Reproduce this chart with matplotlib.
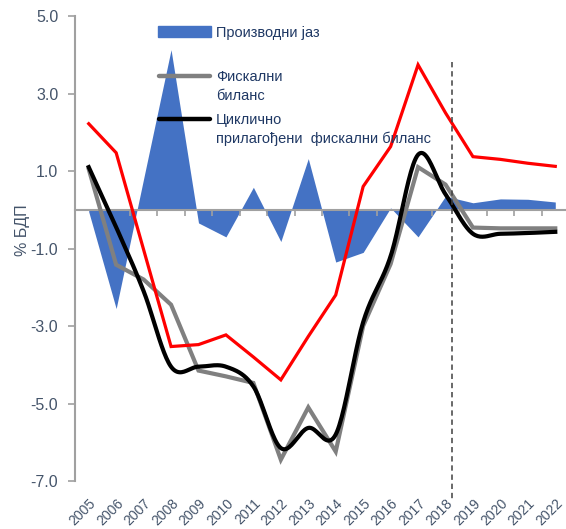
import matplotlib
matplotlib.use('Agg')
import matplotlib.pyplot as plt
from matplotlib.lines import Line2D
from matplotlib.patches import Rectangle
import numpy as np

plt.rcParams['font.family'] = ['Liberation Sans', 'DejaVu Sans']

years = [str(y) for y in range(2005, 2023)]
output_gap = [-0.05, -2.55, 0.8, 4.13, -0.34, -0.7, 0.58, -0.82, 1.32, -1.35,
              -1.1, 0.05, -0.7, 0.35, 0.18, 0.28, 0.27, 0.2]
fiscal_balance = [1.05, -1.42, -1.8, -2.45, -4.15, -4.3, -4.47, -6.45, -5.1, -6.24,
                  -3.0, -1.4, 1.1, 0.65, -0.46, -0.48, -0.48, -0.48]
cyc_adj_balance = [1.1, -0.45, -2.1, -4.05, -4.05, -4.05, -4.56, -6.15, -5.63, -5.8,
                   -2.9, -1.2, 1.42, 0.4, -0.62, -0.62, -0.6, -0.57]
red_series = [2.22, 1.47, -1.03, -3.53, -3.48, -3.23, -3.8, -4.39, -3.27, -2.2,
              0.6, 1.63, 3.74, 2.5, 1.37, 1.3, 1.2, 1.12]
forecast_start = 13.25   # dashed separator, between 2018 and 2019
yticks = [5.0, 3.0, 1.0, -1.0, -3.0, -5.0, -7.0]

label_col = '#44546A'
legend_col = '#1F3864'
axis_col = '#A0A0A0'


def smooth(xs, ys, n=24):
    # Excel-like smoothed line (Catmull-Rom via bezier)
    p = np.column_stack([xs, ys]).astype(float)
    pts = []
    for i in range(len(p) - 1):
        p0 = p[i - 1] if i > 0 else p[i]
        p1, p2 = p[i], p[i + 1]
        p3 = p[i + 2] if i + 2 < len(p) else p[i + 1]
        b1 = p1 + (p2 - p0) / 6
        b2 = p2 - (p3 - p1) / 6
        t = np.linspace(0, 1, n)[:, None]
        seg = ((1 - t) ** 3) * p1 + 3 * ((1 - t) ** 2) * t * b1 + 3 * (1 - t) * t ** 2 * b2 + t ** 3 * p2
        pts.append(seg if i == 0 else seg[1:])
    pts = np.vstack(pts)
    return pts[:, 0], pts[:, 1]


x = np.arange(len(years))

fig = plt.figure(figsize=(5.66, 5.29), dpi=100)
ax = fig.add_axes([75 / 566, 48 / 529, 494 / 566, 465 / 529])

ax.fill_between(x, 0, output_gap, color='#4472C4', lw=0, zorder=2)
ax.plot(x, fiscal_balance, color='#808080', lw=3, zorder=3, solid_joinstyle='miter')
sx, sy = smooth(x, cyc_adj_balance)
ax.plot(sx, sy, color='black', lw=3, zorder=4)
ax.plot(x, red_series, color='#FF0000', lw=2.3, zorder=5, solid_joinstyle='miter')

ax.plot([forecast_start, forecast_start], [3.81, -7.49], color='#404040', lw=1.1,
        ls=(0, (3.5, 2.5)), clip_on=False, zorder=6)

ax.set_xlim(-0.5, len(years) - 0.5)
ax.set_ylim(-7, 5)
ax.set_yticks(yticks)
ax.set_yticklabels([f'{v:.1f}' for v in yticks], color=label_col, fontsize=11.5)
ax.tick_params(axis='y', direction='out', length=5, color=axis_col, width=1.2, pad=7)

ax.set_xticks(x)
ax.set_xticklabels(years, rotation=45, ha='right', rotation_mode='anchor',
                   color=label_col, fontsize=10)
ax.tick_params(axis='x', length=0, pad=11)

for s in ['top', 'right', 'bottom']:
    ax.spines[s].set_visible(False)
ax.spines['left'].set_color(axis_col)
ax.spines['left'].set_linewidth(1.5)

# zero line with category ticks
zero = ax.secondary_xaxis(0, transform=ax.transData)
zero.set_xticks(np.arange(len(years) + 1) - 0.5)
zero.set_xticklabels([])
zero.tick_params(direction='out', length=4, color=axis_col, width=1.2)
zero.spines['bottom'].set_color(axis_col)
zero.spines['bottom'].set_linewidth(1.5)
zero.set_zorder(2.5)

ax.set_ylabel('% БДП', color=label_col, fontsize=11.5)
ax.yaxis.set_label_coords(-0.091, 0.54)

# legend
fig.add_artist(Rectangle((158 / 566, 1 - 37 / 529), 53 / 566, 11 / 529,
                         transform=fig.transFigure, color='#4472C4', zorder=10))
fig.add_artist(Line2D([159 / 566, 210 / 566], [1 - 76 / 529] * 2, color='#808080', lw=3.2,
                      solid_capstyle='round', transform=fig.transFigure, zorder=10))
fig.add_artist(Line2D([159 / 566, 210 / 566], [1 - 119 / 529] * 2, color='black', lw=3.2,
                      solid_capstyle='round', transform=fig.transFigure, zorder=10))
legend_lines = [('Производни јаз', 37), ('Фискални', 81), ('биланс', 100),
                ('Циклично', 124), ('прилагођени  фискални биланс', 143)]
for txt, base in legend_lines:
    fig.text(216 / 566, 1 - base / 529, txt, color=legend_col, fontsize=10.5, va='baseline')

fig.savefig('out.png', dpi=100)
